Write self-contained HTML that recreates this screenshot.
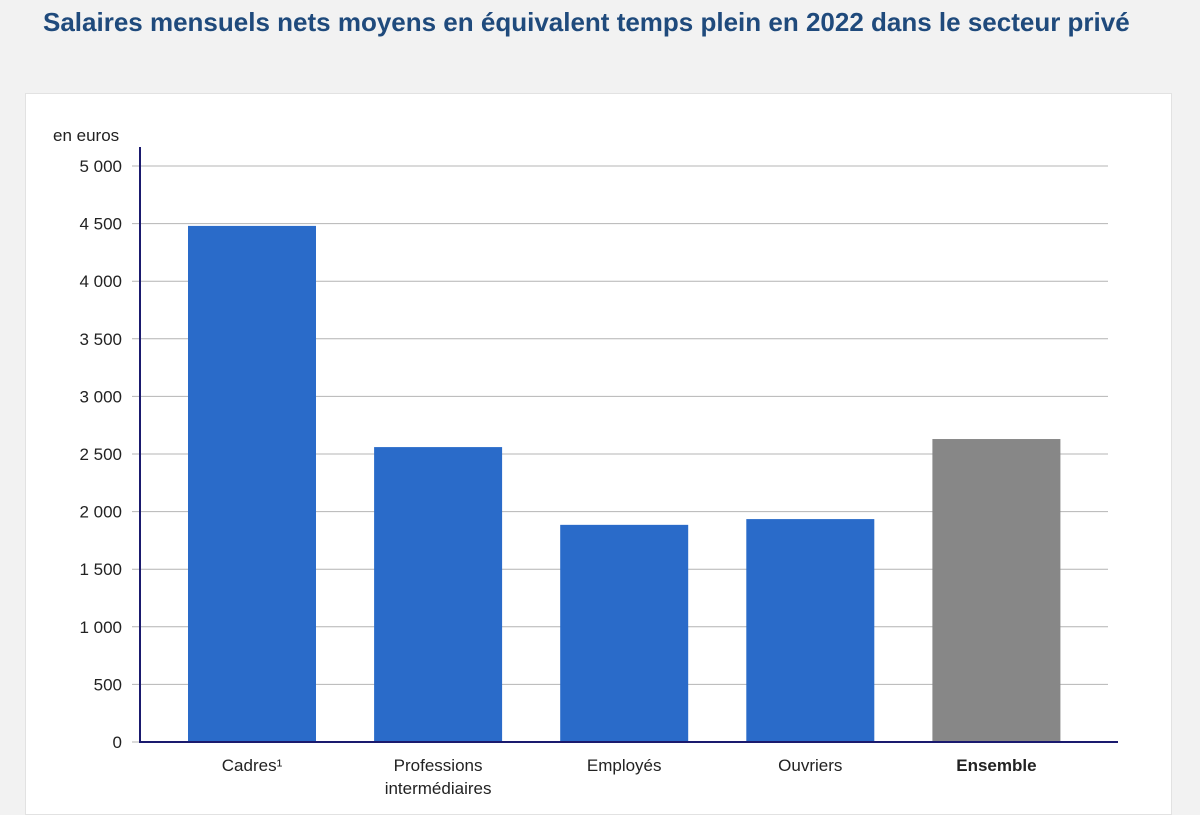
<!DOCTYPE html>
<html><head><meta charset="utf-8"><style>
body{margin:0;width:1200px;height:800px;background:#f2f2f2;overflow:hidden;font-family:"Liberation Sans",sans-serif}
h1{position:absolute;left:43px;top:8px;margin:0;font-size:26px;line-height:29px;font-weight:bold;color:#1f4a7c;width:1130px}
#card{position:absolute;left:25px;top:93px;width:1145px;height:720px;background:#fff;border:1px solid #e2e2e2}
svg{position:absolute;left:0;top:0}
</style></head><body>
<h1>Salaires mensuels nets moyens en équivalent temps plein en 2022 dans le secteur privé</h1>
<div id="card"></div>
<svg id="chart" width="1200" height="800"></svg>
<script>
const categories=["Cadres¹","Professions\nintermédiaires","Employés","Ouvriers","Ensemble"];
const values=[4480,2560,1885,1935,2630];
const colors=["#2a6bc9","#2a6bc9","#2a6bc9","#2a6bc9","#878787"];
const ticks=[0,500,1000,1500,2000,2500,3000,3500,4000,4500,5000];
const tickLabels=["0","500","1 000","1 500","2 000","2 500","3 000","3 500","4 000","4 500","5 000"];
const svg=document.getElementById('chart');
const NS='http://www.w3.org/2000/svg';
const y=v=>742-v*576/5000;
const xc=i=>252+i*186.1;
function mk(t,a,txt){const e=document.createElementNS(NS,t);for(const k in a)e.setAttribute(k,a[k]);if(txt!=null)e.textContent=txt;svg.appendChild(e);return e;}
ticks.forEach((t,i)=>{
 const l=mk('line',{x1:132,x2:1108,y1:y(t),y2:y(t),stroke:'#b4b4b4','stroke-width':1});
 
 
 const tx=mk('text',{x:122,y:y(t)+6,'text-anchor':'end','font-size':17,fill:'#222'},tickLabels[i]);
 
 
});
const u=mk('text',{x:53,y:141,'font-size':17,fill:'#222'},'en euros');


values.forEach((v,i)=>{
 const r=mk('rect',{x:xc(i)-64,y:y(v),width:128,height:742-y(v),fill:colors[i]});
 
 
 categories[i].split('\n').forEach((s,j)=>{
  const t=mk('text',{x:xc(i),y:771+j*23,'text-anchor':'middle','font-size':17,fill:'#222','font-weight':i==4?'bold':'normal'},s);
  
  
 });
});
const ya=mk('line',{x1:140,x2:140,y1:147,y2:743,stroke:'#1a1a6e','stroke-width':2});


const xa=mk('line',{x1:139,x2:1118,y1:742,y2:742,stroke:'#1a1a6e','stroke-width':2});


</script>
</body></html>
